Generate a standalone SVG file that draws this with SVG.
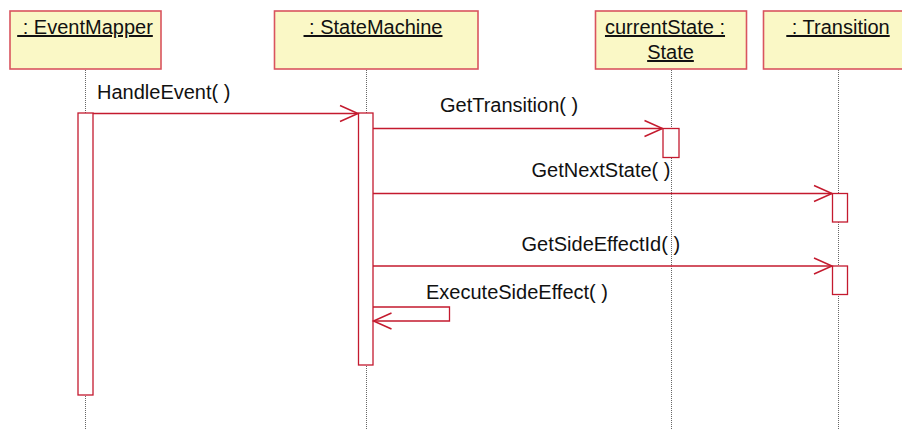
<svg xmlns="http://www.w3.org/2000/svg" width="902" height="430" viewBox="0 0 902 430">
  <style>
    .obj { fill: #FAF8C6; stroke: #D9545E; stroke-width: 1.6; }
    .head { font-family: "Liberation Sans", Arial, sans-serif; font-size: 20px; fill: #111; text-anchor: middle; text-decoration: underline; white-space: pre; }
    .life { stroke: #666; stroke-width: 1; stroke-dasharray: 1 1; fill: none; }
    .act { fill: #fff; stroke: #C41A2E; stroke-width: 1.3; }
    .msg { stroke: #C41A2E; stroke-width: 1.3; fill: none; marker-end: url(#open); }
    .lbl { font-family: "Liberation Sans", Arial, sans-serif; font-size: 20px; fill: #111; white-space: pre; }
  </style>
  <defs>
    <marker id="open" markerUnits="userSpaceOnUse" markerWidth="24" markerHeight="20" viewBox="-20 -10 24 20" refX="0" refY="0" orient="auto" overflow="visible">
      <path d="M-18,-8 L0,0 L-18,8" fill="none" stroke="#C41A2E" stroke-width="1.5"/>
    </marker>
  </defs>

  <rect width="902" height="430" fill="#fff"/>

  <!-- lifelines -->
  <g id="lifelines">
    <line class="life" x1="85.5" y1="70" x2="85.5" y2="430"/>
    <line class="life" x1="366.5" y1="70" x2="366.5" y2="430"/>
    <line class="life" x1="671.5" y1="70" x2="671.5" y2="430"/>
    <line class="life" x1="838.5" y1="70" x2="838.5" y2="430"/>
  </g>

  <g id="eventMapper">
    <rect class="obj" x="10" y="11" width="151" height="58"/>
    <text class="head" x="85" y="34"> : EventMapper</text>
    <rect class="act" x="78" y="113" width="15" height="282"/>
  </g>

  <g id="stateMachine">
    <rect class="obj" x="274.5" y="11" width="203.5" height="58"/>
    <text class="head" x="373" y="34"> : StateMachine</text>
    <rect class="act" x="358.5" y="113" width="14.5" height="252"/>
  </g>

  <g id="currentState">
    <rect class="obj" x="595.5" y="11" width="151" height="58"/>
    <text class="head" x="665" y="34">currentState :</text>
    <text class="head" x="670.5" y="59">State</text>
    <rect class="act" x="663" y="128.5" width="16" height="29"/>
  </g>

  <g id="transition">
    <rect class="obj" x="763.5" y="11" width="150" height="58"/>
    <text class="head" x="838" y="34"> : Transition</text>
    <rect class="act" x="832.5" y="193.5" width="15" height="28.5"/>
    <rect class="act" x="832.5" y="266" width="15" height="28.5"/>
  </g>

  <!-- messages -->
  <g id="connectors">
    <line class="msg" x1="93" y1="113.5" x2="358" y2="113.5"/>
    <line class="msg" x1="373" y1="128.5" x2="662.5" y2="128.5"/>
    <line class="msg" x1="373" y1="193.5" x2="832" y2="193.5"/>
    <line class="msg" x1="373" y1="266" x2="832" y2="266"/>
    <path class="msg" d="M373,307 H449.5 V321 H373.5"/>
  </g>

  <g id="labels">
    <text class="lbl" x="97" y="99">HandleEvent( )</text>
    <text class="lbl" x="440" y="112">GetTransition( )</text>
    <text class="lbl" x="531.5" y="177">GetNextState( )</text>
    <text class="lbl" x="521.5" y="250.5">GetSideEffectId( )</text>
    <text class="lbl" x="426" y="298.5">ExecuteSideEffect( )</text>
  </g>
</svg>
